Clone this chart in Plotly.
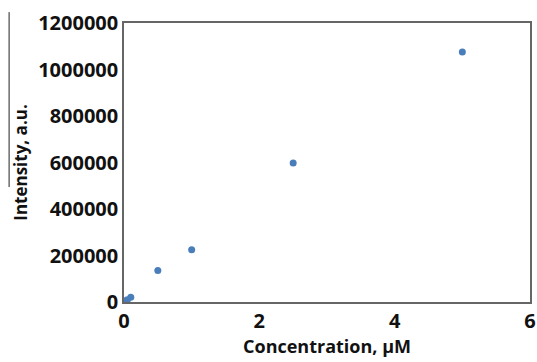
import plotly.graph_objects as go

concentration = [0, 0.01, 0.025, 0.05, 0.1, 0.5, 1, 2.5, 5]
intensity = [0, 2000, 5000, 10000, 20000, 135000, 225000, 598000, 1075000]

x_ticks = [0, 2, 4, 6]
y_ticks = [0, 200000, 400000, 600000, 800000, 1000000, 1200000]

FONT = "Open Sans"

fig = go.Figure()
fig.add_trace(go.Scatter(
    x=concentration, y=intensity, mode="markers",
    marker=dict(color="#4a7ebb", size=7),
    showlegend=False,
))

fig.update_layout(
    width=537, height=362,
    margin=dict(l=124, r=7, t=23, b=60),
    paper_bgcolor="white", plot_bgcolor="white",
    font=dict(family=FONT, color="#111111"),
    xaxis=dict(
        range=[0, 6], tickvals=x_ticks, showgrid=False, zeroline=False, automargin=False,
        showline=True, linecolor="#666666", linewidth=1.5, mirror=True,
        ticks="", tickfont=dict(size=20, family=FONT, weight="bold"),
        title=dict(text="<b>Concentration, µM</b>", font=dict(size=18, family=FONT), standoff=7),
    ),
    yaxis=dict(
        range=[0, 1200000], tickvals=y_ticks, tickformat="d", showgrid=False, zeroline=False,
        automargin=False,
        showline=True, linecolor="#666666", linewidth=1.5, mirror=True,
        ticks="", tickfont=dict(size=20, family=FONT, weight="bold"),
        title=dict(text="<b>Intensity, a.u.</b>", font=dict(size=17, family=FONT), standoff=6),
    ),
    shapes=[dict(type="line", xref="paper", yref="paper",
                 x0=-0.283, x1=-0.283, y0=1.039, y1=0.412,
                 line=dict(color="#222222", width=1))],
)

fig.write_html(
    "out.html",
    config={"displayModeBar": False},
    post_script="document.body.style.margin='0';document.body.style.overflow='hidden';",
)
